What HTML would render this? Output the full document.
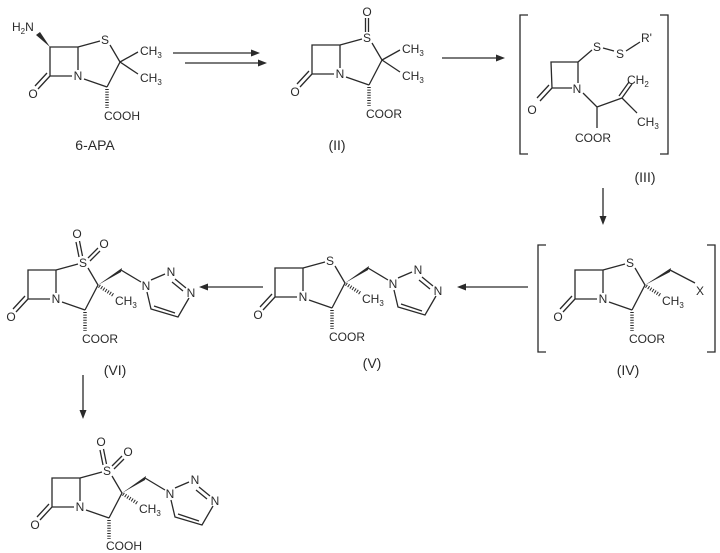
<!DOCTYPE html>
<html><head><meta charset="utf-8"><style>
html,body{margin:0;padding:0;background:#fff}
svg{display:block}
text{font-family:"Liberation Sans",sans-serif;font-size:12px;fill:#2a2a2a}
.l{font-size:14px}
</style></head><body>
<svg width="720" height="553" viewBox="0 0 720 553" xmlns="http://www.w3.org/2000/svg">
<g stroke="#2a2a2a" stroke-width="1.3" fill="none">
<!-- arrows -->
<line x1="173" y1="53" x2="252" y2="53"/>
<line x1="185" y1="63" x2="259" y2="63"/>
<line x1="442" y1="58" x2="497" y2="58"/>
<line x1="603" y1="188" x2="603" y2="217"/>
<line x1="528" y1="287" x2="465" y2="287"/>
<line x1="263" y1="287" x2="207" y2="287"/>
<line x1="83" y1="375" x2="83" y2="411"/>
<!-- brackets -->
<path d="M528,15 L520,15 L520,154 L528,154 M660,15 L668,15 L668,154 L660,154"/>
<path d="M546,245 L538,245 L538,352 L546,352 M707,245 L715,245 L715,352 L707,352"/>
</g>
<g fill="#2a2a2a">
<path d="M260,53 l-9,-3.5 v7z"/><path d="M267,63 l-9,-3.5 v7z"/>
<path d="M505,58 l-9,-3.5 v7z"/><path d="M603,225 l-3.5,-9 h7z"/>
<path d="M457,287 l9,-3.5 v7z"/><path d="M199,287 l9,-3.5 v7z"/>
<path d="M83,419 l-3.5,-9 h7z"/>
</g>

<!-- 6-APA -->
<g transform="translate(50,47)">
<g stroke="#2a2a2a" stroke-width="1.3" fill="none">
<path d="M28,0 L0,0 L0,29 M28,0 L28,23 M0,29 L22,29 M34,32 L57,40 M28,0 L50,-6 M60,-2 L70,15 L57,40 M0,29 L-12,42 M-3,26 L-15,39 M70,15 L88,5 M70,15 L88,27"/>
<line x1="57" y1="42" x2="57" y2="61" stroke-width="3.5" stroke-dasharray="1 1.6"/>
</g>
<polygon points="0,0 -10,-15 -14,-12" fill="#2a2a2a"/>
<text x="28" y="33" text-anchor="middle">N</text><text x="55" y="-3" text-anchor="middle">S</text>
<text x="-17" y="51" text-anchor="middle">O</text>
<text x="-38" y="-16">H<tspan font-size="8" dy="3">2</tspan><tspan dy="-3">N</tspan></text>
<text x="90" y="8">CH<tspan font-size="8" dy="3">3</tspan></text>
<text x="90" y="35">CH<tspan font-size="8" dy="3">3</tspan></text>
<text x="54" y="73">COOH</text>
</g>
<text class="l" x="95" y="150" text-anchor="middle">6-APA</text>

<!-- II -->
<g transform="translate(312,45)">
<g stroke="#2a2a2a" stroke-width="1.3" fill="none">
<path d="M28,0 L0,0 L0,29 M28,0 L28,23 M0,29 L22,29 M34,32 L57,40 M28,0 L50,-6 M60,-2 L70,15 L57,40 M0,29 L-12,42 M-3,26 L-15,39 M70,15 L88,5 M70,15 L88,27 M53.5,-13 L53.5,-27 M56.5,-13 L56.5,-27"/>
<line x1="57" y1="42" x2="57" y2="61" stroke-width="3.5" stroke-dasharray="1 1.6"/>
</g>
<text x="28" y="33" text-anchor="middle">N</text><text x="55" y="-3" text-anchor="middle">S</text>
<text x="-17" y="51" text-anchor="middle">O</text><text x="55" y="-29" text-anchor="middle">O</text>
<text x="90" y="8">CH<tspan font-size="8" dy="3">3</tspan></text>
<text x="90" y="35">CH<tspan font-size="8" dy="3">3</tspan></text>
<text x="54" y="73">COOR</text>
</g>
<text class="l" x="337" y="150" text-anchor="middle">(II)</text>

<!-- III -->
<g stroke="#2a2a2a" stroke-width="1.3" fill="none">
<path d="M578,62 L551,62 L552,88 M578,62 L578,83 M552,88 L572,88 M552,88 L540,101 M549,85 L537,98 M578,62 L592,50 M603,48 L614,51 M626,51 L640,42 M583,93 L597,107 L622,98 M622,98 L632,84 M619,96 L629,82 M622,98 L637,113 M597,107 L597,128"/>
</g>
<text x="577" y="93" text-anchor="middle">N</text><text x="532" y="114" text-anchor="middle">O</text>
<text x="597" y="51" text-anchor="middle">S</text><text x="620" y="58" text-anchor="middle">S</text>
<text x="641" y="42">R'</text>
<text x="627" y="84">CH<tspan font-size="8" dy="3">2</tspan></text>
<text x="637" y="126">CH<tspan font-size="8" dy="3">3</tspan></text>
<text x="593" y="142" text-anchor="middle">COOR</text>
<text class="l" x="645" y="182" text-anchor="middle">(III)</text>

<!-- IV -->
<g transform="translate(575,270)">
<g stroke="#2a2a2a" stroke-width="1.3" fill="none">
<path d="M28,0 L0,0 L0,29 M28,0 L28,23 M0,29 L22,29 M34,32 L57,40 M28,0 L50,-6 M60,-2 L70,15 L57,40 M0,29 L-12,42 M-3,26 L-15,39 M95,0 L120,13"/>
<line x1="57" y1="42" x2="57" y2="61" stroke-width="3.5" stroke-dasharray="1 1.6"/>
<line x1="71" y1="16" x2="85" y2="25" stroke-width="3.5" stroke-dasharray="1 1.6"/>
</g>
<polygon points="70,15 96,-2 95,2" fill="#2a2a2a"/>
<text x="28" y="33" text-anchor="middle">N</text><text x="55" y="-3" text-anchor="middle">S</text>
<text x="-17" y="51" text-anchor="middle">O</text>
<text x="121" y="25">X</text>
<text x="87" y="35">CH<tspan font-size="8" dy="3">3</tspan></text>
<text x="54" y="73">COOR</text>
</g>
<text class="l" x="628" y="375" text-anchor="middle">(IV)</text>

<!-- V -->
<g transform="translate(275,268)">
<g stroke="#2a2a2a" stroke-width="1.3" fill="none">
<path d="M28,0 L0,0 L0,29 M28,0 L28,23 M0,29 L22,29 M34,32 L57,40 M28,0 L50,-6 M60,-2 L70,15 L57,40 M0,29 L-12,42 M-3,26 L-15,39 M93,0 L113,12 M123,10 L137,4 M147,9 L158,18 M144,12 L155,21 M161,28 L150,47 L123,39 L119,22 M147,43 L126,36"/>
<line x1="57" y1="42" x2="57" y2="61" stroke-width="3.5" stroke-dasharray="1 1.6"/>
<line x1="71" y1="16" x2="85" y2="25" stroke-width="3.5" stroke-dasharray="1 1.6"/>
</g>
<polygon points="70,15 94,-2 93,2" fill="#2a2a2a"/>
<text x="28" y="33" text-anchor="middle">N</text><text x="55" y="-3" text-anchor="middle">S</text>
<text x="-17" y="51" text-anchor="middle">O</text>
<text x="118" y="20" text-anchor="middle">N</text><text x="143" y="6" text-anchor="middle">N</text><text x="163" y="27" text-anchor="middle">N</text>
<text x="87" y="35">CH<tspan font-size="8" dy="3">3</tspan></text>
<text x="54" y="73">COOR</text>
</g>
<text class="l" x="372" y="368" text-anchor="middle">(V)</text>

<!-- VI -->
<g transform="translate(28,270)">
<g stroke="#2a2a2a" stroke-width="1.3" fill="none">
<path d="M28,0 L0,0 L0,29 M28,0 L28,23 M0,29 L22,29 M34,32 L57,40 M28,0 L50,-6 M60,-2 L70,15 L57,40 M0,29 L-12,42 M-3,26 L-15,39 M93,0 L113,12 M123,10 L137,4 M147,9 L158,18 M144,12 L155,21 M161,28 L150,47 L123,39 L119,22 M147,43 L126,36 M51,-13 L48,-28 M54.5,-14 L51.5,-29 M60,-12 L70,-22 M62,-9 L72,-19"/>
<line x1="57" y1="42" x2="57" y2="61" stroke-width="3.5" stroke-dasharray="1 1.6"/>
<line x1="71" y1="16" x2="85" y2="25" stroke-width="3.5" stroke-dasharray="1 1.6"/>
</g>
<polygon points="70,15 94,-2 93,2" fill="#2a2a2a"/>
<text x="28" y="33" text-anchor="middle">N</text><text x="55" y="-3" text-anchor="middle">S</text>
<text x="-17" y="51" text-anchor="middle">O</text>
<text x="49" y="-32" text-anchor="middle">O</text><text x="76" y="-22" text-anchor="middle">O</text>
<text x="118" y="20" text-anchor="middle">N</text><text x="143" y="6" text-anchor="middle">N</text><text x="163" y="27" text-anchor="middle">N</text>
<text x="87" y="35">CH<tspan font-size="8" dy="3">3</tspan></text>
<text x="54" y="73">COOR</text>
</g>
<text class="l" x="115" y="375" text-anchor="middle">(VI)</text>

<!-- final -->
<g transform="translate(52,478)">
<g stroke="#2a2a2a" stroke-width="1.3" fill="none">
<path d="M28,0 L0,0 L0,29 M28,0 L28,23 M0,29 L22,29 M34,32 L57,40 M28,0 L50,-6 M60,-2 L70,15 L57,40 M0,29 L-12,42 M-3,26 L-15,39 M93,0 L113,12 M123,10 L137,4 M147,9 L158,18 M144,12 L155,21 M161,28 L150,47 L123,39 L119,22 M147,43 L126,36 M51,-13 L48,-28 M54.5,-14 L51.5,-29 M60,-12 L70,-22 M62,-9 L72,-19"/>
<line x1="57" y1="42" x2="57" y2="61" stroke-width="3.5" stroke-dasharray="1 1.6"/>
<line x1="71" y1="16" x2="85" y2="25" stroke-width="3.5" stroke-dasharray="1 1.6"/>
</g>
<polygon points="70,15 94,-2 93,2" fill="#2a2a2a"/>
<text x="28" y="33" text-anchor="middle">N</text><text x="55" y="-3" text-anchor="middle">S</text>
<text x="-17" y="51" text-anchor="middle">O</text>
<text x="49" y="-32" text-anchor="middle">O</text><text x="76" y="-22" text-anchor="middle">O</text>
<text x="118" y="20" text-anchor="middle">N</text><text x="143" y="6" text-anchor="middle">N</text><text x="163" y="27" text-anchor="middle">N</text>
<text x="87" y="35">CH<tspan font-size="8" dy="3">3</tspan></text>
<text x="54" y="72">COOH</text>
</g>
</svg>
</body></html>
